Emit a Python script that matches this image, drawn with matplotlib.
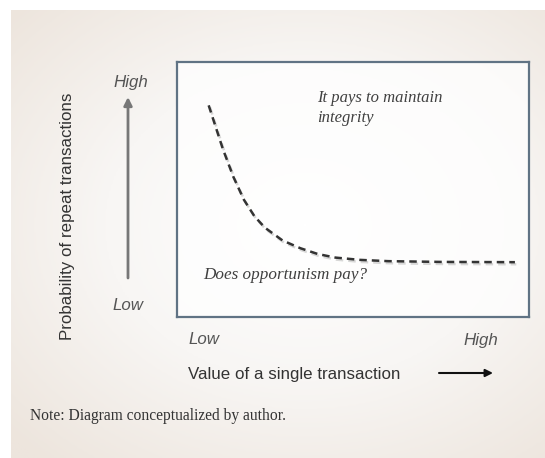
import numpy as np
import matplotlib.pyplot as plt
import matplotlib.patheffects as pe
from matplotlib.colors import LinearSegmentedColormap

# Data (axes run 0..10 in both directions)
curve_x = [0.9, 1.3, 1.6, 1.9, 2.2, 2.5, 3.0, 3.5, 4.0, 4.5, 5.2, 6.0, 7.5, 9.6]
curve_y = [8.3, 6.6, 5.5, 4.6, 3.95, 3.5, 3.0, 2.7, 2.47, 2.33, 2.24, 2.19, 2.16, 2.15]
x_labels = ['Low', 'High']
y_labels = ['Low', 'High']
x_title = 'Value of a single transaction'
y_title = 'Probability of repeat transactions'
notes = ['It pays to maintain\nintegrity', 'Does opportunism pay?']
footnote = 'Note: Diagram conceptualized by author.'

W, H = 545, 458
fig = plt.figure(figsize=(W / 100, H / 100), dpi=100)
fig.patch.set_facecolor('white')


def fx(px):
    return px / W


def fy(py):
    return 1 - py / H


# Background panel with soft radial gradient
bg = fig.add_axes([fx(11), 0, 1 - fx(11), fy(10)])
bg.set_axis_off()
gx, gy = np.meshgrid(np.linspace(0, 1, 300), np.linspace(0, 1, 300))
r = np.sqrt(((gx - 0.55) / 0.75) ** 2 + ((gy - 0.52) / 0.7) ** 2)
cmap = LinearSegmentedColormap.from_list('bg', ['#ffffff', '#f8f6f4', '#ede5dd'])
bg.imshow(np.clip(r, 0, 1), cmap=cmap, vmin=0, vmax=1, aspect='auto',
          extent=[0, 1, 0, 1], origin='lower')

# Main box
ax = fig.add_axes([fx(177), fy(317), (529 - 177) / W, (317 - 62) / H])
ax.set_xlim(0, 10)
ax.set_ylim(0, 10)
ax.set_facecolor((1, 1, 1, 0.75))
for s in ax.spines.values():
    s.set_color('#607384')
    s.set_linewidth(1.6)
ax.set_xticks([])
ax.set_yticks([])

ax.plot(curve_x, curve_y, color='#333333', lw=1.8, ls=(0, (3, 2)),
        solid_joinstyle='round',
        path_effects=[pe.SimpleLineShadow(offset=(1, -1.5), alpha=0.15),
                      pe.Normal()])

ax.text((317 - 177) / 352 * 10, (317 - 108) / 255 * 10, notes[0],
        family='Liberation Serif', style='italic', fontsize=12,
        color='#404040', va='center', ha='left', linespacing=1.25)
ax.text((203 - 177) / 352 * 10, (317 - 275) / 255 * 10, notes[1],
        family='Liberation Serif', style='italic', fontsize=12.3,
        color='#404040', va='center', ha='left')

# Axis end labels
sans = 'Liberation Sans'
fig.text(fx(131), fy(82), y_labels[1], family=sans, style='italic',
         fontsize=12.2, color='#555555', ha='center', va='center')
fig.text(fx(128), fy(305), y_labels[0], family=sans, style='italic',
         fontsize=12.2, color='#555555', ha='center', va='center')
fig.text(fx(188), fy(340), x_labels[0], family=sans, style='italic',
         fontsize=12.2, color='#555555', ha='left', va='center')
fig.text(fx(498), fy(340), x_labels[1], family=sans, style='italic',
         fontsize=12.2, color='#555555', ha='right', va='center')

# Axis titles
fig.text(fx(68), fy(216), y_title, family=sans, fontsize=12.2,
         color='#333333', rotation=90, ha='center', va='center')
fig.text(fx(188), fy(374), x_title, family=sans, fontsize=12.2,
         color='#333333', ha='left', va='center')

# Arrows
fig.add_artist(plt.Annotation('', xy=(fx(128), fy(97)), xytext=(fx(128), fy(278)),
                              xycoords='figure fraction', textcoords='figure fraction',
                              arrowprops=dict(arrowstyle='-|>', color='#777777',
                                              lw=2, mutation_scale=12,
                                              shrinkA=0, shrinkB=0)))
fig.add_artist(plt.Annotation('', xy=(fx(493), fy(373)), xytext=(fx(439), fy(373)),
                              xycoords='figure fraction', textcoords='figure fraction',
                              arrowprops=dict(arrowstyle='-|>', color='#111111',
                                              lw=1.5, mutation_scale=11,
                                              shrinkA=0, shrinkB=0)))

# Footnote
fig.text(fx(30), fy(416), footnote, family='Liberation Serif', fontsize=11.2,
         color='#333333', ha='left', va='center')

fig.savefig('out.png', dpi=100, facecolor=fig.get_facecolor())
